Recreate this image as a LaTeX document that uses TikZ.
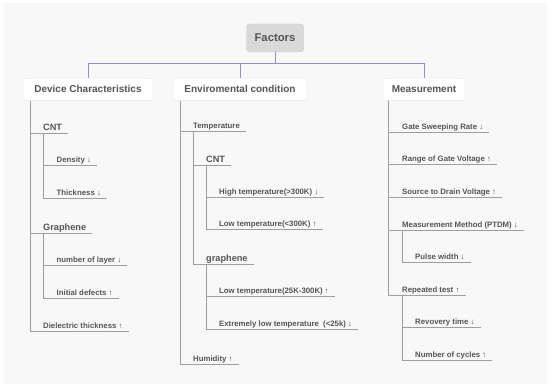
\documentclass[tikz,border=0pt]{standalone}
\usepackage{fontspec}
\setmainfont{Liberation Sans}
\definecolor{ink}{HTML}{555555}
\definecolor{canvas}{HTML}{F8F8F8}
\definecolor{rootfill}{HTML}{D9D9D9}
\definecolor{rootedge}{HTML}{C9C9C9}
\definecolor{boxedge}{HTML}{E6E6E6}
\definecolor{branch}{HTML}{A19D99}
\definecolor{linkcol}{HTML}{8E8ED0}

\begin{document}
\begin{tikzpicture}[x=1pt,y=-1pt,
 root/.style={draw=rootedge,fill=rootfill,rounded corners=3pt,
   minimum width=57pt,minimum height=28pt,inner sep=0pt,
   font=\bfseries\fontsize{11.3}{13}\selectfont,text=ink},
 category/.style={draw=boxedge,fill=white,rounded corners=3pt,
   minimum height=22.5pt,inner sep=0pt,
   font=\bfseries\fontsize{10}{12}\selectfont,text=ink},
 topic/.style={anchor=south west,inner xsep=0pt,inner ysep=1pt,
   text depth=1.5pt,font=\bfseries\fontsize{9.2}{11}\selectfont,text=ink},
 item/.style={topic,font=\bfseries\fontsize{7.8}{9}\selectfont},
 link/.style={draw=linkcol,line width=0.9pt},
 stem/.style={draw=branch,line width=0.8pt}
]
\useasboundingbox (0,0) rectangle (550,387);
\fill[white] (0,0) rectangle (550,387);
\fill[canvas] (3,3) rectangle (547,384);

% root and the three categories
\node[root] (factors) at (275,38) {Factors};
\node[category,minimum width=130pt] (device) at (88,89.4) {Device Characteristics};
\node[category,minimum width=134pt] (environment) at (240,89.4) {Enviromental condition};
\node[category,minimum width=82pt] (measurement) at (424,89.4) {Measurement};
\coordinate (hub) at (275,63);
\draw[link] (factors.south) -- (hub);
\draw[link] (hub) -| (device.north);
\draw[link] (hub) -| (environment.north);
\draw[link] (hub) -| (measurement.north);

% device characteristics
\node[topic] (cntA) at (43,133) {CNT};
\node[item] (density) at (56.5,165) {Density ↓};
\node[item] (thickness) at (56.5,198) {Thickness ↓};
\node[topic] (grapheneA) at (43,233) {Graphene};
\node[item] (layers) at (56.5,265) {number of layer ↓};
\node[item] (defects) at (56.5,298) {Initial defects ↑};
\node[item] (dielectric) at (43,331.5) {Dielectric thickness ↑};
\draw[stem] ([xshift=7.5pt]device.south west) |- ([xshift=6pt]cntA.south east);
\draw[stem] ([xshift=7.5pt]device.south west) |- ([xshift=6pt]grapheneA.south east);
\draw[stem] ([xshift=7.5pt]device.south west) |- ([xshift=6pt]dielectric.south east);
\draw[stem] (cntA.south west) |- ([xshift=6pt]density.south east);
\draw[stem] (cntA.south west) |- ([xshift=6pt]thickness.south east);
\draw[stem] (grapheneA.south west) |- ([xshift=6pt]layers.south east);
\draw[stem] (grapheneA.south west) |- ([xshift=6pt]defects.south east);

% environmental condition
\node[item] (temperature) at (193,131) {Temperature};
\node[topic] (cntB) at (206,165) {CNT};
\node[item] (hightemp) at (219,197) {High temperature(>300K) ↓};
\node[item] (lowtemp) at (219,229.5) {Low temperature(<300K) ↑};
\node[topic] (grapheneB) at (206,264) {graphene};
\node[item] (lowgraph) at (219,296.5) {Low temperature(25K-300K) ↑};
\node[item] (extremetemp) at (219,329.5) {Extremely low temperature\ \ (<25k) ↓};
\node[item] (humidity) at (193,364) {Humidity ↑};
\draw[stem] ([xshift=7.5pt]environment.south west) |- ([xshift=6pt]temperature.south east);
\draw[stem] ([xshift=7.5pt]environment.south west) |- ([xshift=6pt]humidity.south east);
\draw[stem] (temperature.south west) |- ([xshift=6pt]cntB.south east);
\draw[stem] (temperature.south west) |- ([xshift=6pt]grapheneB.south east);
\draw[stem] (cntB.south west) |- ([xshift=6pt]hightemp.south east);
\draw[stem] (cntB.south west) |- ([xshift=6pt]lowtemp.south east);
\draw[stem] (grapheneB.south west) |- ([xshift=6pt]lowgraph.south east);
\draw[stem] (grapheneB.south west) |- ([xshift=6pt]extremetemp.south east);

% measurement
\node[item] (gaterate) at (402,132) {Gate Sweeping Rate ↓};
\node[item] (gaterange) at (402,164.5) {Range of Gate Voltage ↑};
\node[item] (sourcedrain) at (402,197) {Source to Drain Voltage ↑};
\node[item] (method) at (402,230) {Measurement Method (PTDM) ↓};
\node[item] (pulse) at (415,262) {Pulse width ↓};
\node[item] (repeated) at (402,295) {Repeated test ↑};
\node[item] (recovery) at (415,327.5) {Revovery time ↓};
\node[item] (cycles) at (415,360) {Number of cycles ↑};
\draw[stem] ([xshift=6pt]measurement.south west) |- ([xshift=6pt]gaterate.south east);
\draw[stem] ([xshift=6pt]measurement.south west) |- ([xshift=6pt]gaterange.south east);
\draw[stem] ([xshift=6pt]measurement.south west) |- ([xshift=6pt]sourcedrain.south east);
\draw[stem] ([xshift=6pt]measurement.south west) |- ([xshift=6pt]method.south east);
\draw[stem] ([xshift=6pt]measurement.south west) |- ([xshift=6pt]repeated.south east);
\draw[stem] (method.south west) |- ([xshift=6pt]pulse.south east);
\draw[stem] (repeated.south west) |- ([xshift=6pt]recovery.south east);
\draw[stem] (repeated.south west) |- ([xshift=6pt]cycles.south east);
\end{tikzpicture}
\end{document}
